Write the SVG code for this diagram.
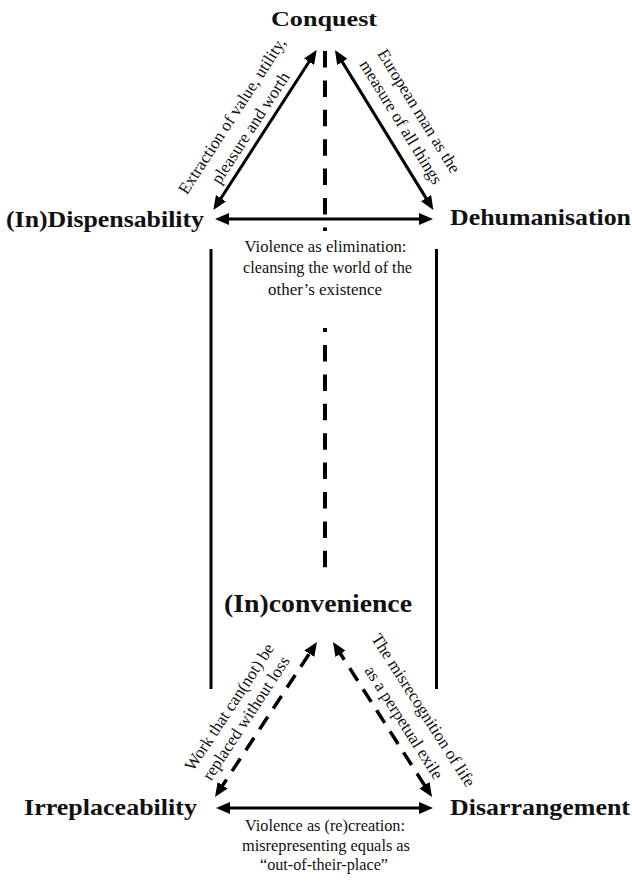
<svg xmlns="http://www.w3.org/2000/svg" width="632" height="881" viewBox="0 0 632 881">
<defs>
<style>
.node{font-family:"Liberation Serif","Times New Roman",serif;font-weight:bold;fill:#111;text-anchor:middle}
.lbl{font-family:"Liberation Serif","Times New Roman",serif;font-size:17px;fill:#111;text-anchor:middle}
.solid{stroke:#000;stroke-width:3;fill:none}
.dash{stroke:#000;stroke-width:3.5;fill:none;stroke-dasharray:15 10}
.axis{stroke:#000;stroke-width:4;fill:none;stroke-dasharray:16.5 12.9}
</style>
<marker id="ah" viewBox="0 0 14 12" refX="8" refY="6" markerWidth="14" markerHeight="12" markerUnits="userSpaceOnUse" orient="auto-start-reverse">
<path d="M0,0 L14,6 L0,12 z" fill="#000"/>
</marker>
</defs>
<rect width="632" height="881" fill="#fff"/>

<g id="connectors">
<line class="solid" x1="216.6" y1="205" x2="313.4" y2="55" marker-start="url(#ah)" marker-end="url(#ah)"/>
<line class="solid" x1="338.1" y1="55.1" x2="430.2" y2="204.9" marker-start="url(#ah)" marker-end="url(#ah)"/>
<line class="solid" x1="221" y1="219" x2="427" y2="219" marker-start="url(#ah)" marker-end="url(#ah)"/>
<line class="solid" x1="222" y1="808" x2="427" y2="808" marker-start="url(#ah)" marker-end="url(#ah)"/>
<line class="dash" x1="218.3" y1="792" x2="313.7" y2="647" marker-start="url(#ah)" marker-end="url(#ah)"/>
<line class="dash" x1="336.2" y1="647.1" x2="428.8" y2="791.9" marker-start="url(#ah)" marker-end="url(#ah)"/>
<line class="solid" x1="211" y1="249" x2="211" y2="689"/>
<line class="solid" x1="436.5" y1="249" x2="436.5" y2="689"/>
<line class="axis" x1="325" y1="51" x2="325" y2="231"/>
<line class="axis" x1="325" y1="328" x2="325" y2="332" style="stroke-dasharray:none"/>
<line class="axis" x1="325" y1="345" x2="325" y2="568"/>
</g>

<g id="conquest"><text class="node" x="324" y="26" font-size="22" textLength="106" lengthAdjust="spacingAndGlyphs">Conquest</text></g>
<g id="dispensability"><text class="node" x="105" y="226.5" font-size="24" textLength="198" lengthAdjust="spacingAndGlyphs">(In)Dispensability</text></g>
<g id="dehumanisation"><text class="node" x="540.5" y="224.5" font-size="24" textLength="181" lengthAdjust="spacingAndGlyphs">Dehumanisation</text></g>
<g id="inconvenience"><text class="node" x="318" y="611.5" font-size="25" textLength="188" lengthAdjust="spacingAndGlyphs">(In)convenience</text></g>
<g id="irreplaceability"><text class="node" x="110.5" y="815" font-size="24" textLength="173" lengthAdjust="spacingAndGlyphs">Irreplaceability</text></g>
<g id="disarrangement"><text class="node" x="540" y="815" font-size="24" textLength="180" lengthAdjust="spacingAndGlyphs">Disarrangement</text></g>

<g id="label-extraction">
<text class="lbl" transform="translate(236.6,118.9) rotate(-57)">Extraction of value, utility,</text>
<text class="lbl" transform="translate(255.1,130.9) rotate(-57)">pleasure and worth</text>
</g>
<g id="label-european">
<text class="lbl" transform="translate(414.2,114) rotate(58.4)">European man as the</text>
<text class="lbl" transform="translate(396.3,125) rotate(58.4)">measure of all things</text>
</g>
<g id="label-elimination">
<text class="lbl" x="325.5" y="251.7" textLength="162" lengthAdjust="spacingAndGlyphs">Violence as elimination:</text>
<text class="lbl" x="327.5" y="273.3" textLength="169" lengthAdjust="spacingAndGlyphs">cleansing the world of the</text>
<text class="lbl" x="325" y="295" textLength="114" lengthAdjust="spacingAndGlyphs">other’s existence</text>
</g>
<g id="label-work">
<text class="lbl" transform="translate(234,710.1) rotate(-56.7)">Work that can(not) be</text>
<text class="lbl" transform="translate(250.7,721.1) rotate(-56.7)">replaced without loss</text>
</g>
<g id="label-misrecognition">
<text class="lbl" transform="translate(418.7,713.1) rotate(57.4)">The misrecognition of life</text>
<text class="lbl" transform="translate(399.3,725.5) rotate(57.4)">as a perpetual exile</text>
</g>
<g id="label-recreation">
<text class="lbl" x="325" y="831" textLength="160" lengthAdjust="spacingAndGlyphs">Violence as (re)creation:</text>
<text class="lbl" x="326" y="850.5" textLength="168" lengthAdjust="spacingAndGlyphs">misrepresenting equals as</text>
<text class="lbl" x="324" y="870" textLength="128" lengthAdjust="spacingAndGlyphs">“out-of-their-place”</text>
</g>
</svg>
